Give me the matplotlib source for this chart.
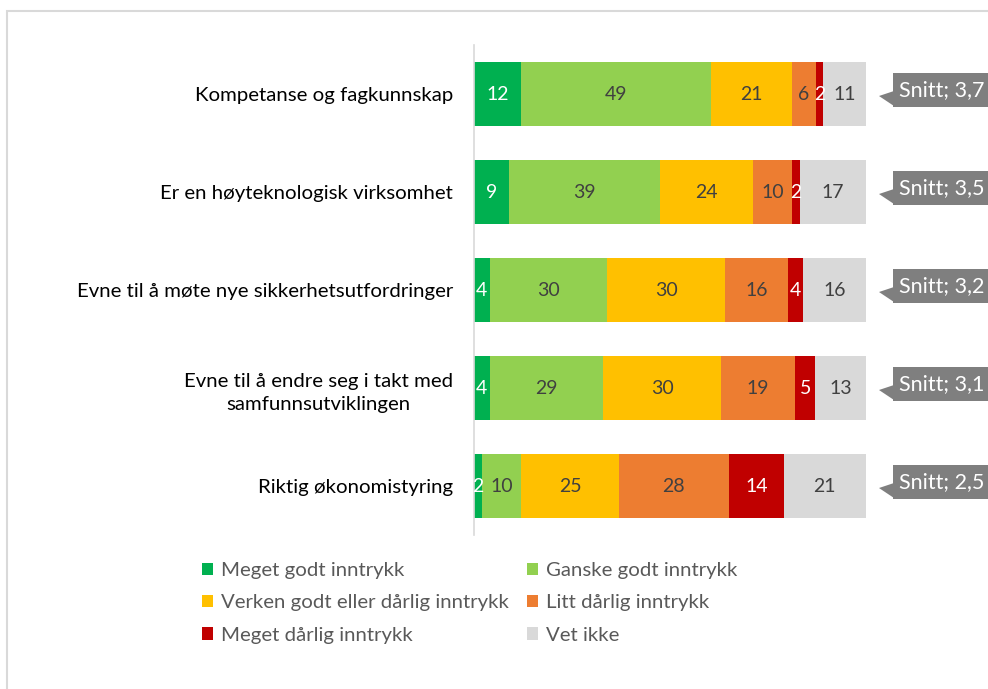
import numpy as np
import matplotlib.pyplot as plt
from matplotlib.patches import Rectangle, Polygon

# Data (percent per answer category)
categories = ['Kompetanse og fagkunnskap',
              'Er en høyteknologisk virksomhet',
              'Evne til å møte nye sikkerhetsutfordringer',
              'Evne til å endre seg i takt med\nsamfunnsutviklingen',
              'Riktig økonomistyring']
series_names = ['Meget godt inntrykk', 'Ganske godt inntrykk',
                'Verken godt eller dårlig inntrykk', 'Litt dårlig inntrykk',
                'Meget dårlig inntrykk', 'Vet ikke']
meget_godt = [12, 9, 4, 4, 2]
ganske_godt = [49, 39, 30, 29, 10]
verken = [21, 24, 30, 30, 25]
litt_darlig = [6, 10, 16, 19, 28]
meget_darlig = [2, 2, 4, 5, 14]
vet_ikke = [11, 17, 16, 13, 21]
snitt = [3.7, 3.5, 3.2, 3.1, 2.5]

colors = ['#00B050', '#92D050', '#FFC000', '#ED7D31', '#C00000', '#D9D9D9']
label_colors = ['white', '#404040', '#404040', '#404040', 'white', '#404040']

FONT = 'Lato'
W, H = 988, 689

fig = plt.figure(figsize=(W / 100, H / 100), dpi=100)
fig.patches.append(Rectangle((7 / W, -0.1), 2, (H - 11) / H + 0.1,
                             transform=fig.transFigure, fill=False,
                             edgecolor='#D9D9D9', lw=1.5))

ax = fig.add_axes([474 / W, (H - 535) / H, 392 / W, 490 / H])

values = np.array([meget_godt, ganske_godt, verken, litt_darlig,
                   meget_darlig, vet_ikke], dtype=float)
shares = values / values.sum(axis=0) * 100   # 100% stacked
y = np.arange(len(categories))
left = np.zeros(len(categories))
handles = []
for k in range(len(series_names)):
    bars = ax.barh(y, shares[k], left=left, height=0.66, color=colors[k],
                   label=series_names[k])
    handles.append(bars)
    for i in range(len(categories)):
        ax.text(left[i] + shares[k][i] / 2, y[i], '%d' % values[k][i],
                ha='center', va='center', fontsize=14, family=FONT,
                color=label_colors[k])
    left += shares[k]

ax.set_xlim(0, 100)
ax.set_ylim(len(categories) - 0.5, -0.5)
ax.set_xticks([])
ax.set_yticks(y)
ax.set_yticklabels(categories, fontsize=14.7, family=FONT, color='#000000',
                   multialignment='center')
for t in ax.get_yticklabels():
    t.set_linespacing(1.45)
ax.tick_params(axis='y', length=0, pad=15)
for s in ['top', 'right', 'bottom']:
    ax.spines[s].set_visible(False)
ax.spines['left'].set_color('#D9D9D9')
ax.spines['left'].set_linewidth(1.2)

# Snitt callouts (pixel offsets converted to data units)
px = 392 / 100.0
py = 98.0
def xd(p):
    return (p - 474) / px
for i in range(len(categories)):
    box = Rectangle((xd(893), y[i] - 21 / py), xd(1000) - xd(893), 34 / py,
                    facecolor='#7F7F7F', edgecolor='none', clip_on=False)
    ax.add_patch(box)
    wedge = Polygon([(xd(879), y[i] + 2 / py), (xd(894), y[i] - 3 / py),
                     (xd(894), y[i] + 12 / py)], closed=True,
                    facecolor='#7F7F7F', edgecolor='none', clip_on=False)
    ax.add_patch(wedge)
    ax.text(xd(899), y[i] - 4 / py, 'Snitt; ' + ('%.1f' % snitt[i]).replace('.', ','),
            ha='left', va='center', fontsize=15.5, family=FONT, color='white',
            clip_on=False)

# Legend, row-wise order
order = [0, 2, 4, 1, 3, 5]
leg = fig.legend([handles[j] for j in order], [series_names[j] for j in order],
                 ncol=2, loc='upper left', bbox_to_anchor=(202 / W, 1 - 562 / H),
                 frameon=False, prop={'family': FONT, 'size': 14.7},
                 borderpad=0, borderaxespad=0,
                 handlelength=0.55, handleheight=0.55, handletextpad=0.4,
                 columnspacing=0.85, labelspacing=0.75)
for t in leg.get_texts():
    t.set_color('#595959')

fig.savefig('out.png', dpi=100)
